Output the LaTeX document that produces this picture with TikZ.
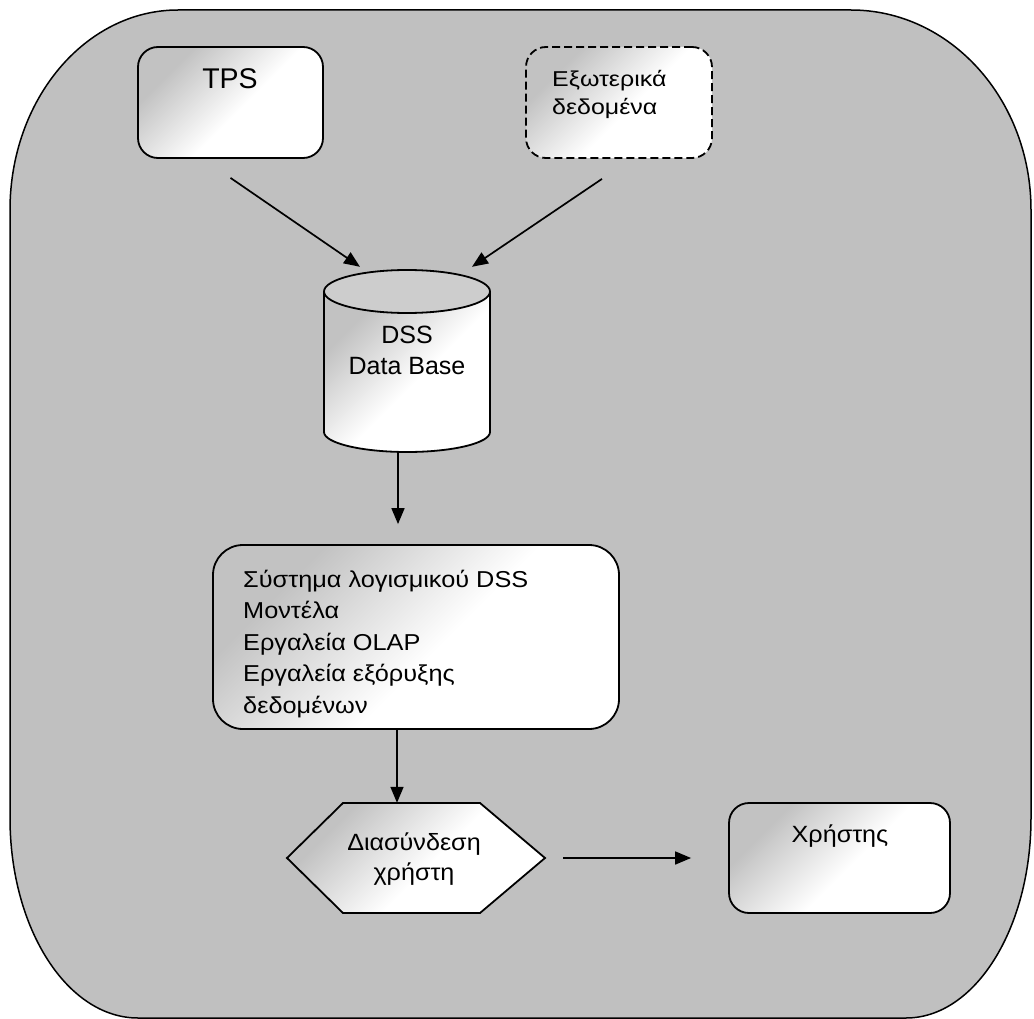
\documentclass[tikz,border=0pt]{standalone}
\usepackage{fontspec}
\setmainfont{Liberation Sans}
% slightly widened faces for the Greek labels
\newfontfamily\wideA[FakeStretch=1.10]{Liberation Sans}
\newfontfamily\wideB[FakeStretch=1.16]{Liberation Sans}
\newfontfamily\wideC[FakeStretch=1.07]{Liberation Sans}
\usetikzlibrary{arrows.meta}
\definecolor{panel}{RGB}{192,192,192}
\definecolor{shadeA}{RGB}{194,194,194}
\definecolor{cyltop}{RGB}{205,205,205}
% grey in the upper left corner fading to white
\pgfdeclareverticalshading{boxshade}{100bp}{color(0bp)=(white); color(46bp)=(white); color(72bp)=(shadeA); color(100bp)=(shadeA)}

\begin{document}
\begin{tikzpicture}[x=1pt, y=-1pt,
  outline/.style={draw=black, line width=1.8pt},
  soft/.style={shade, shading=boxshade, shading angle=45},
  box/.style={outline, soft, rounded corners=20pt, inner sep=0pt},
  conn/.style={line width=1.7pt, -{Triangle[length=16pt,width=13pt]}},
  txt/.style={inner sep=0pt, align=left},
  ctxt/.style={inner sep=0pt, align=center},
]
\useasboundingbox (0,0) rectangle (1034,1019);
\fill[white] (0,0) rectangle (1034,1019);

% outer panel with elliptical corners
\draw[fill=panel, line width=1.5pt]
  (10,210) .. controls (10,99.5) and (85.2,10) .. (178,10)
  -- (851,10) .. controls (950.4,10) and (1031,99.5) .. (1031,210)
  -- (1031,818) .. controls (1031,928.5) and (975,1018) .. (906,1018)
  -- (138,1018) .. controls (67.3,1018) and (10,928.5) .. (10,818) -- cycle;

% sources (multi-line labels are placed by the baseline of their last line)
\node[box, minimum width=185pt, minimum height=111pt] (tps) at (230.5,102.5) {};
\node[ctxt, anchor=base, font=\fontsize{28.5}{34}\selectfont] (tpsT) at (230,89) {TPS};

\node[box, dash pattern=on 8pt off 4pt, minimum width=186pt, minimum height=111pt] (ext) at (619,102.5) {};
\node[txt, anchor=base west, font=\wideB\fontsize{21.5}{28}\selectfont] (extT) at (552,115) {Εξωτερικά\\δεδομένα};

% database cylinder
\path[soft] (324,291.5) -- (324,432)
  .. controls (324,443) and (361.2,452) .. (407,452)
  .. controls (452.8,452) and (490,443) .. (490,432) -- (490,291.5) -- cycle;
\draw[outline] (324,291.5) -- (324,432)
  .. controls (324,443) and (361.2,452) .. (407,452)
  .. controls (452.8,452) and (490,443) .. (490,432) -- (490,291.5);
\draw[outline, fill=cyltop] (407,291.5) ellipse [x radius=83pt, y radius=21.5pt];
\node[minimum width=166pt, minimum height=182pt, inner sep=0pt] (db) at (407,361) {};
\node[ctxt, anchor=base, font=\fontsize{25}{31}\selectfont] (dbT) at (407,374) {DSS\\Data Base};

% software block
\node[box, rounded corners=30pt, minimum width=406pt, minimum height=184pt] (dss) at (416,637) {};
\node[txt, anchor=base west, font=\wideA\fontsize{23}{31.5}\selectfont] (dssT) at (243,713)
  {Σύστημα λογισμικού DSS\\Μοντέλα\\Εργαλεία OLAP\\Εργαλεία εξόρυξης\\δεδομένων};

% user interface hexagon
\draw[outline, soft] (287,858) -- (343,803) -- (480,803) -- (545,858) -- (480,913) -- (343,913) -- cycle;
\node[minimum width=258pt, minimum height=110pt, inner sep=0pt] (ui) at (416,858) {};
\node[ctxt, anchor=base, font=\wideC\fontsize{23.5}{30}\selectfont] (uiT) at (414,880) {Διασύνδεση\\χρήστη};

% user
\node[box, minimum width=221pt, minimum height=110pt] (user) at (839.5,858) {};
\node[ctxt, anchor=base, font=\wideC\fontsize{23.5}{30}\selectfont] (userT) at (840,842) {Χρήστης};

% connectors
\draw[conn] ([yshift=-19pt]tps.south) -- ([xshift=-47pt,yshift=3pt]db.north);
\draw[conn] ([xshift=-17pt,yshift=-20pt]ext.south) -- ([xshift=65pt,yshift=3pt]db.north);
\draw[conn] ([xshift=-9pt]db.south) -- ([xshift=-18pt,yshift=20pt]dss.north);
\draw[conn] ([xshift=-19pt]dss.south) -- ([xshift=-19pt]ui.north);
\draw[conn] ([xshift=18pt]ui.east) -- ([xshift=-37pt]user.west);
\end{tikzpicture}
\end{document}
